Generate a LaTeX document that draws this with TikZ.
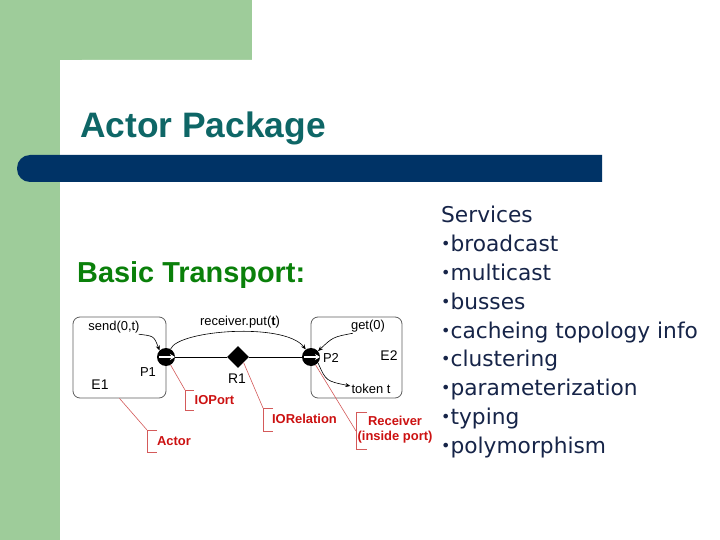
\documentclass[tikz,border=0pt]{standalone}
\usepackage{fontspec}
\setmainfont{Liberation Sans}
\newfontfamily\listfont{DejaVu Sans}
\usetikzlibrary{shapes.geometric,arrows.meta}
\definecolor{bggreen}{RGB}{158,204,154}
\definecolor{barblue}{RGB}{0,51,102}
\definecolor{titleteal}{RGB}{14,102,102}
\definecolor{btgreen}{RGB}{10,128,10}
\definecolor{calred}{RGB}{204,17,17}
\definecolor{linered}{RGB}{212,90,90}
\definecolor{listnavy}{RGB}{22,36,72}
\definecolor{boxgray}{RGB}{95,95,95}
\newcommand\lbul{{\fontsize{16}{16}\selectfont\raisebox{2bp}{•}}}
\begin{document}
\begin{tikzpicture}[x=1bp,y=-1bp,
  port/.style={circle, fill=black, inner sep=0pt, minimum size=18bp,
    path picture={\draw[white, line width=1.8bp, -{Stealth[length=5bp,width=6bp]}]
      ([xshift=2bp]path picture bounding box.west) -- (path picture bounding box.east);}},
  relnode/.style={diamond, fill=black, inner sep=0pt, minimum size=22bp},
  actorbox/.style={draw=boxgray, line width=0.8bp, rounded corners=7bp,
    minimum width=93bp, minimum height=81bp, inner sep=0pt},
  lbl/.style={font=\fontsize{13}{15}\selectfont, inner sep=0pt},
  biglbl/.style={font=\fontsize{14}{16}\selectfont, inner sep=0pt},
  redlbl/.style={font=\bfseries\fontsize{13}{15}\selectfont, text=calred, inner sep=0pt, align=center},
  wire/.style={draw=black, line width=0.8bp},
  arr/.style={draw=black, line width=0.6bp, -{Stealth[length=5bp,width=4bp]}},
  callout/.style={draw=linered, line width=0.6bp},
  listtxt/.style={font=\listfont\fontsize{21.8}{24}\selectfont, text=listnavy, inner sep=0pt, anchor=base west}
]
\useasboundingbox (0,0) rectangle (720,540);
\begin{scope}
\clip (0,0) rectangle (720,540);
\fill[white] (0,0) rectangle (720,540);
\fill[bggreen] (0,0) rectangle (252,60);
\fill[bggreen] (0,0) rectangle (60,540);
\fill[white, rounded corners=22bp] (60,580) -- (60,60) -- (780,60) -- (780,580) -- cycle;
\end{scope}
% blue bar
\fill[barblue] (602,182) -- (602,155) [rounded corners=13bp] -- (17,155) -- (17,182) [sharp corners] -- cycle;
% titles
\node[anchor=base west, font=\bfseries\fontsize{35.5}{40}\selectfont, text=titleteal, inner sep=0pt] (title) at (80,138) {Actor Package};
\node[anchor=base west, font=\bfseries\fontsize{29}{32}\selectfont, text=btgreen, inner sep=0pt] (bt) at (77,283) {Basic Transport:};

% actors
\node[actorbox] (E1) at (119.5,357.5) {};
\node[actorbox, minimum width=91bp] (E2) at (356.5,357.5) {};
% ports and relation
\node[port] (P1) at (166,357) {};
\node[relnode] (R1) at (238,357) {};
\node[port] (P2) at (311,357) {};
\draw[wire] (P1) -- (R1) -- (P2);

% labels
\node[lbl] (send) at (114,327) {send(0,t)};
\node[lbl] (put) at (240,322) {receiver.put(\textbf{t})};
\node[lbl] (get) at (368,326) {get(0)};
\node[lbl] (token) at (371,389) {token t};
\node[lbl] (p1l) at (148,372) {P1};
\node[biglbl] (e1l) at (100,385) {E1};
\node[biglbl] (r1l) at (237,379) {R1};
\node[lbl] (p2l) at (331,358) {P2};
\node[biglbl] (e2l) at (389,356) {E2};

% arrows
\draw[arr] ([xshift=-1bp,yshift=-1bp]send.south east) .. controls (154,336) .. (P1.135);
\draw[arr] (P1.60) .. controls (178,330) and (285,322) .. (P2.125);
\draw[arr] ([xshift=2bp,yshift=-1bp]get.south west) .. controls (333,337) .. (P2.40);
\draw[arr] (P2.-40) .. controls (326,381) .. ([xshift=-1bp,yshift=3bp]token.west);

% red callouts
\node[redlbl] (ioport) at (214.5,400) {IOPort};
\node[redlbl] (actor) at (174,441) {Actor};
\node[redlbl] (iorel) at (304.5,419) {IORelation};
\node[redlbl] (recv) at (395,430) {Receiver\\(inside port)};

\coordinate (bIOP) at (185,390);
\coordinate (bACT) at (147,430);
\coordinate (bREL) at (263,408);
\coordinate (bRCV) at (356,431);
\draw[callout] (194,390) -- (185,390) -- (185,410) -- (194,410);
\draw[callout] (157,430) -- (147,430) -- (147,452) -- (157,452);
\draw[callout] (273,408) -- (263,408) -- (263,431) -- (273,431);
\draw[callout] (367,412) -- (356,412) -- (356,449) -- (367,449);
\draw[callout] (P1.-60) -- (bIOP);
\draw[callout] (E1.south) -- (bACT);
\draw[callout] (R1.south east) -- (bREL);
\draw[callout] (P2.-60) -- (bRCV);

% services list
\node[listtxt] (l0) at (441,223) {Services};
\node[listtxt] (l1) at (441,251.75) {\lbul broadcast};
\node[listtxt] (l2) at (441,280.5) {\lbul multicast};
\node[listtxt] (l3) at (441,309.25) {\lbul busses};
\node[listtxt] (l4) at (441,338) {\lbul cacheing topology info};
\node[listtxt] (l5) at (441,366.75) {\lbul clustering};
\node[listtxt] (l6) at (441,395.5) {\lbul parameterization};
\node[listtxt] (l7) at (441,424.25) {\lbul typing};
\node[listtxt] (l8) at (441,453) {\lbul polymorphism};
\end{tikzpicture}
\end{document}
